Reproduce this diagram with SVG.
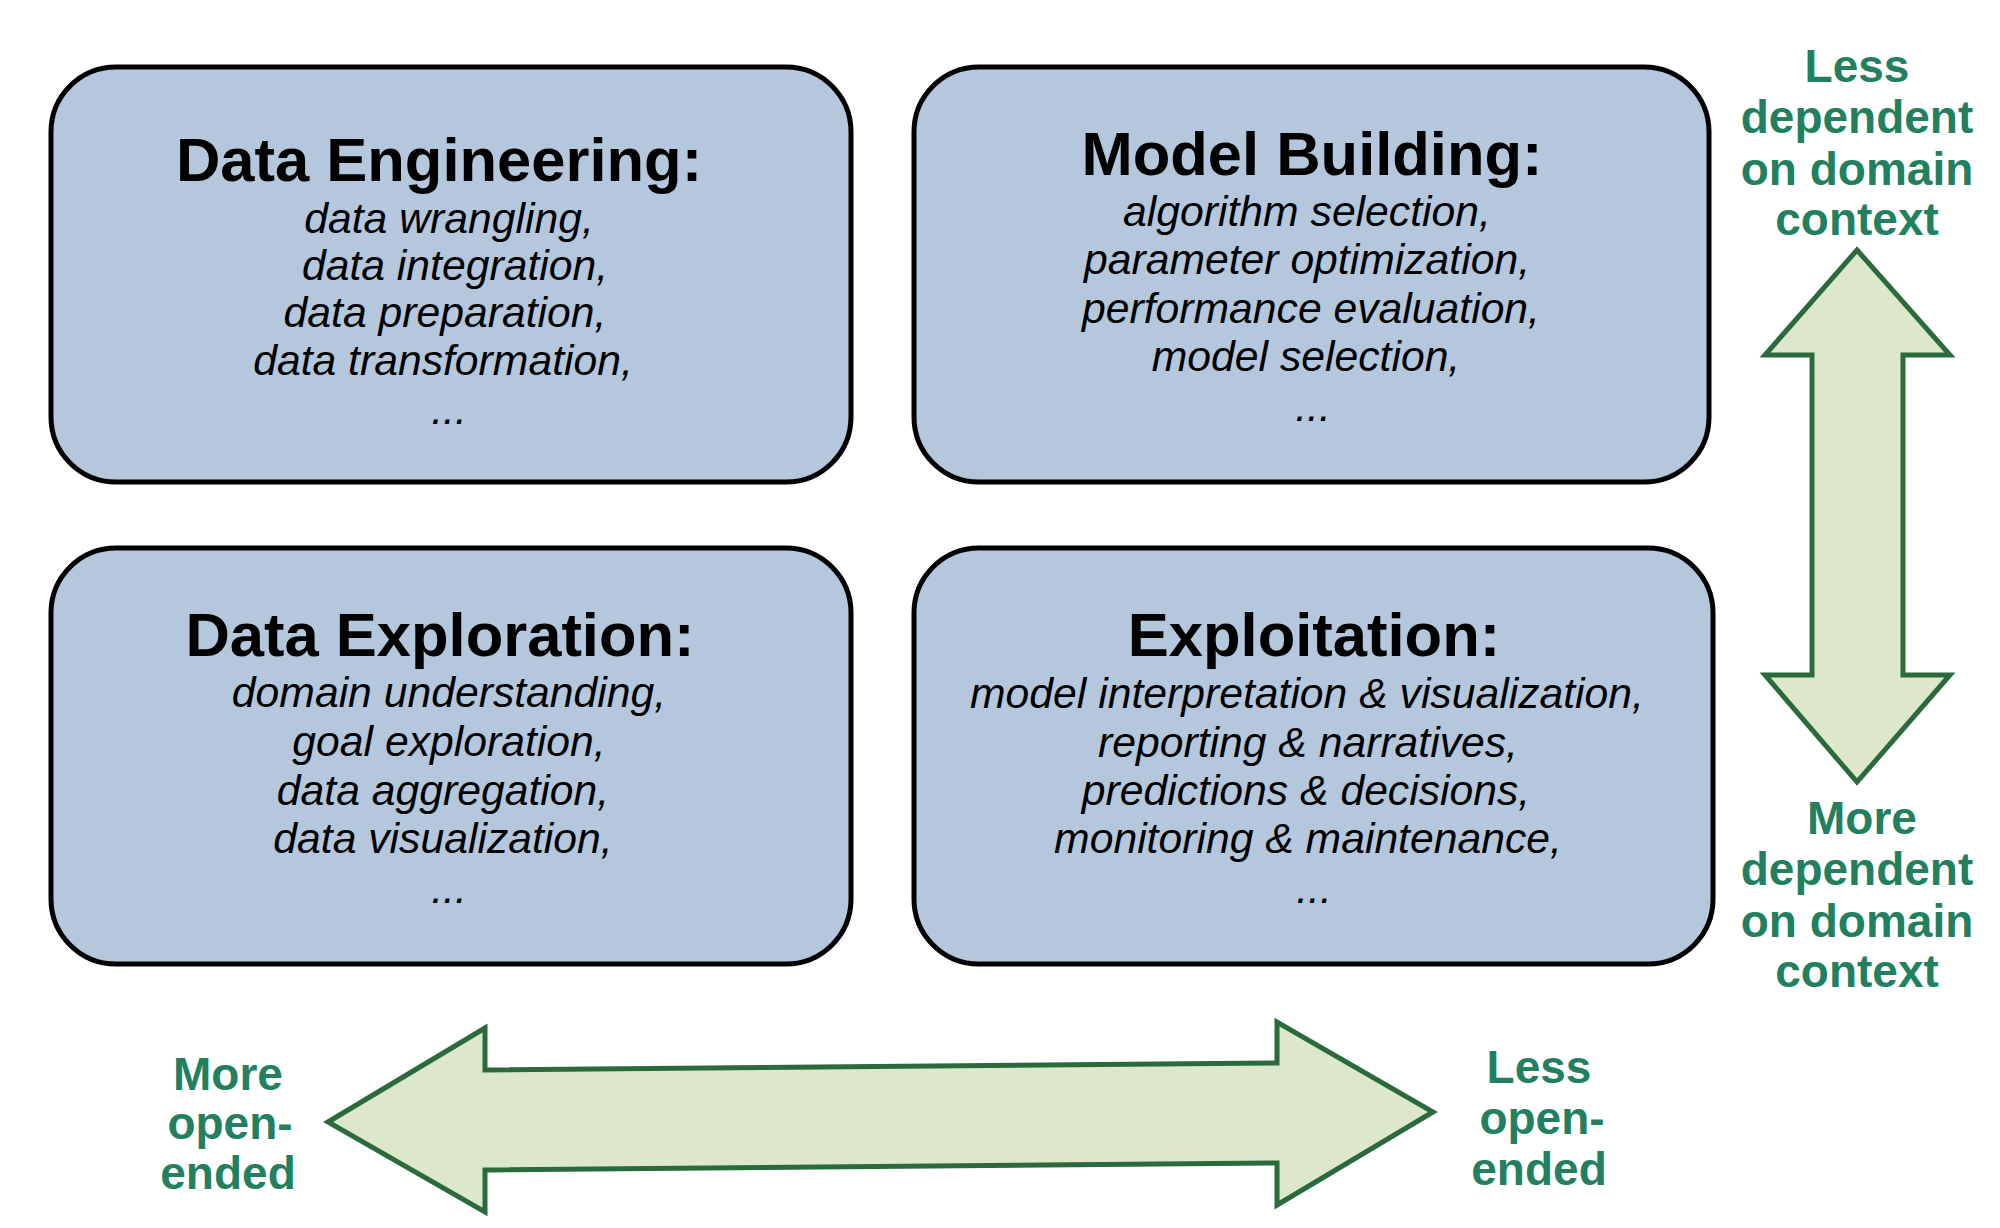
<svg xmlns="http://www.w3.org/2000/svg" width="2000" height="1228" viewBox="0 0 2000 1228">
<style>
.box{fill:#b4c7dc;stroke:#000;stroke-width:5}
.title{font-family:"Liberation Sans",Arial,sans-serif;font-weight:bold;font-size:61.5px;fill:#000;text-anchor:middle}
.item{font-family:"Liberation Sans",Arial,sans-serif;font-style:italic;font-size:42.7px;fill:#000;text-anchor:middle}
.lbl{font-family:"Liberation Sans",Arial,sans-serif;font-weight:bold;font-size:46px;fill:#23805f;text-anchor:middle}
.arr{fill:#dde8cb;stroke:#2b6a3c;stroke-width:5;stroke-linejoin:miter}
</style>
<rect width="2000" height="1228" fill="#fff"/>
<g id="data-engineering">
<rect class="box" x="51" y="67" width="800" height="415" rx="65" ry="65"/>
<text class="title" x="439" y="181">Data Engineering:</text>
<text class="item" x="449" y="233">data wrangling,</text>
<text class="item" x="455" y="280">data integration,</text>
<text class="item" x="445" y="327">data preparation,</text>
<text class="item" x="443" y="375">data transformation,</text>
<text class="item" x="449" y="424">...</text>
</g>
<g id="model-building">
<rect class="box" x="914" y="67" width="795" height="415" rx="65" ry="65"/>
<text class="title" x="1312" y="175">Model Building:</text>
<text class="item" x="1307" y="226">algorithm selection,</text>
<text class="item" x="1307" y="274">parameter optimization,</text>
<text class="item" x="1311" y="323">performance evaluation,</text>
<text class="item" x="1306" y="371">model selection,</text>
<text class="item" x="1313" y="421">...</text>
</g>
<g id="data-exploration">
<rect class="box" x="51" y="548" width="800" height="416" rx="65" ry="65"/>
<text class="title" x="440" y="656">Data Exploration:</text>
<text class="item" x="449" y="707">domain understanding,</text>
<text class="item" x="449" y="756">goal exploration,</text>
<text class="item" x="443" y="805">data aggregation,</text>
<text class="item" x="443" y="853">data visualization,</text>
<text class="item" x="449" y="903">...</text>
</g>
<g id="exploitation">
<rect class="box" x="914" y="548" width="799" height="416" rx="65" ry="65"/>
<text class="title" x="1314" y="656">Exploitation:</text>
<text class="item" x="1307" y="708">model interpretation &amp; visualization,</text>
<text class="item" x="1308" y="757">reporting &amp; narratives,</text>
<text class="item" x="1306" y="805">predictions &amp; decisions,</text>
<text class="item" x="1308" y="853">monitoring &amp; maintenance,</text>
<text class="item" x="1314" y="903">...</text>
</g>
<g id="connectors">
<polygon id="vertical-arrow" class="arr" points="1857,250 1950,355 1903,355 1903,675 1950,675 1857,782 1765,675 1812,675 1812,355 1765,355"/>
<polygon id="horizontal-arrow" class="arr" points="328,1122 485,1028 485,1070 1277,1063 1277,1022 1433,1112 1277,1205 1277,1163 485,1170 485,1212"/>
</g>
<g id="label-less-dependent">
<text class="lbl" x="1857" y="82">Less</text>
<text class="lbl" x="1857" y="133">dependent</text>
<text class="lbl" x="1857" y="185">on domain</text>
<text class="lbl" x="1857" y="235">context</text>
</g>
<g id="label-more-dependent">
<text class="lbl" x="1862" y="834">More</text>
<text class="lbl" x="1857" y="885">dependent</text>
<text class="lbl" x="1857" y="937">on domain</text>
<text class="lbl" x="1857" y="987">context</text>
</g>
<g id="label-more-open">
<text class="lbl" x="228" y="1090">More</text>
<text class="lbl" x="230" y="1139">open-</text>
<text class="lbl" x="228" y="1189">ended</text>
</g>
<g id="label-less-open">
<text class="lbl" x="1539" y="1083">Less</text>
<text class="lbl" x="1542" y="1134">open-</text>
<text class="lbl" x="1539" y="1185">ended</text>
</g>
</svg>
